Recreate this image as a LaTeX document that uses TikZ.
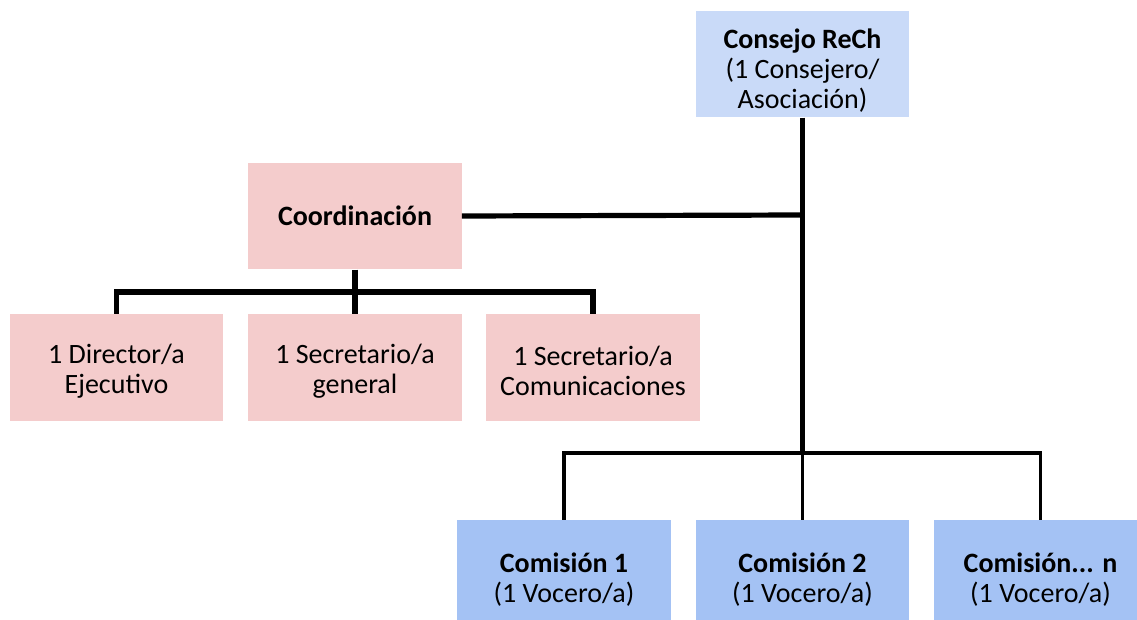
\documentclass[tikz,border=0pt]{standalone}
\usepackage{fontspec}
\setmainfont{Carlito}
\definecolor{lblue}{HTML}{C9DAF8}
\definecolor{pinkc}{HTML}{F4CCCC}
\definecolor{bluec}{HTML}{A4C2F4}
\newcommand\mystrut[1]{\rule{0pt}{#1}}
\begin{document}
\begin{tikzpicture}[x=0.75pt,y=-0.75pt,
  box/.style={rectangle, draw=none, inner sep=0pt, align=center,
    minimum width=160pt, minimum height=80pt,
    font=\fontsize{21}{22.5}\selectfont},
  thickline/.style={line width=3.9pt, black},
  thinline/.style={line width=2.9pt, black}]
\useasboundingbox (0,0) rectangle (1137,620);
\clip (0,0) rectangle (1137,620);
\fill[white] (0,0) rectangle (1137,620);

% nodes
\node[box, fill=lblue] (cons) at (802.5,64) {\mystrut{25pt}\textbf{Consejo ReCh}\\(1 Consejero/\\Asociación)};
\node[box, fill=pinkc] (coord) at (355,216) {\textbf{Coordinación}};
\node[box, fill=pinkc] (dir) at (116.5,367.5) {\mystrut{20pt}1 Director/a\\Ejecutivo};
\node[box, fill=pinkc] (sgen) at (355,367.5) {\mystrut{20pt}1 Secretario/a\\general};
\node[box, fill=pinkc] (scom) at (593,367.5) {\mystrut{20pt}1 Secretario/a\\Comunicaciones};
\node[box, fill=bluec, minimum height=84pt] (c1) at (564,576) {\mystrut{20pt}\textbf{Comisión 1}\\(1 Vocero/a)};
\node[box, fill=bluec, minimum height=84pt] (c2) at (802.5,576) {\mystrut{20pt}\textbf{Comisión 2}\\(1 Vocero/a)};
\node[box, fill=bluec, minimum height=84pt] (cn) at (1040.5,576) {\mystrut{20pt}\textbf{Comisión... n}\\(1 Vocero/a)};

% junction coordinates
\coordinate (hub) at (802.5,215);
\coordinate (bot) at (802.5,453);
\coordinate (pbus) at (355,292);

% connectors
\draw[thickline] (cons.south) -- (bot);
\draw[thickline] (coord.east) -- (hub);
\draw[thickline] (coord.south) -- (pbus);
\draw[thickline] (dir.north) -- (dir.north |- pbus) -- (scom.north |- pbus) -- (scom.north);
\draw[thickline] (pbus) -- (sgen.north);
\draw[thinline] (c1.north) -- (c1.north |- bot) -- (cn.north |- bot) -- (cn.north);
\draw[thinline] (bot) -- (c2.north);
\end{tikzpicture}
\end{document}
